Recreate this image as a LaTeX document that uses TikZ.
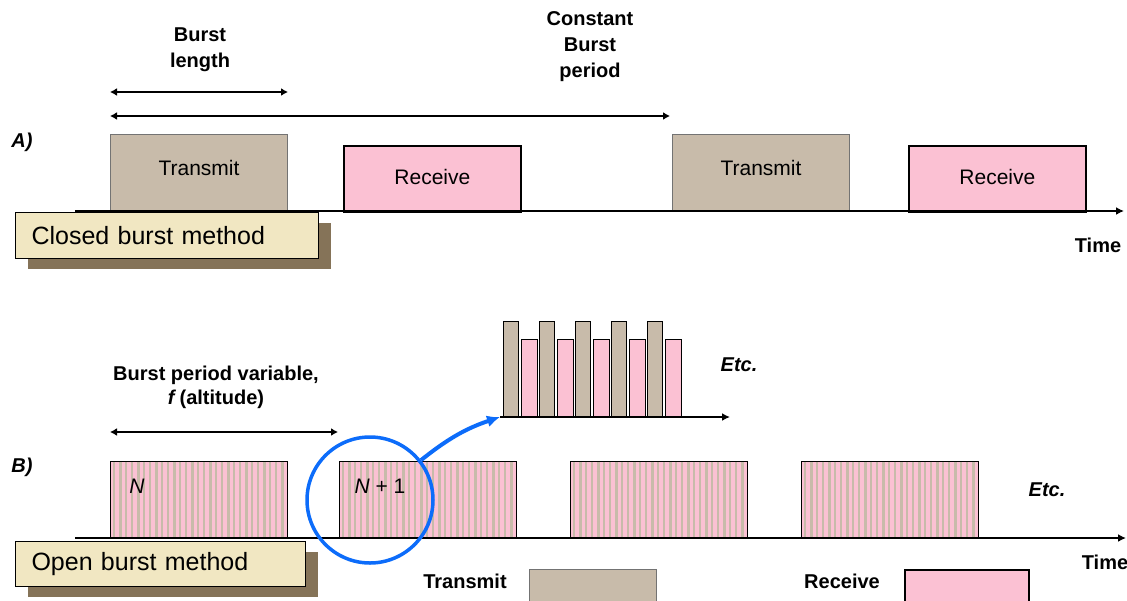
\documentclass[tikz,border=0pt]{standalone}
\usepackage{fontspec}
\setmainfont{Liberation Sans}
\usetikzlibrary{arrows.meta,shadows,positioning}

\definecolor{txtan}{RGB}{200,187,170}
\definecolor{rxpink}{RGB}{251,193,211}
\definecolor{notecream}{RGB}{241,231,194}
\definecolor{notebrown}{RGB}{133,115,88}
\definecolor{markblue}{RGB}{12,108,250}

\begin{document}
\begin{tikzpicture}[x=1pt,y=-1pt,>={Latex[length=8pt,width=8pt]},
                    inner sep=0pt,
  lbl/.style={font=\fontsize{20}{26}\selectfont\bfseries,align=center},
  tag/.style={font=\fontsize{20}{24}\selectfont\bfseries\itshape},
  tx/.style={draw=black!55,line width=1pt,fill=txtan,anchor=north west,
             minimum width=177pt,minimum height=77pt,text depth=10pt,
             font=\fontsize{21}{21}\selectfont},
  rx/.style={tx,draw=black,line width=1.8pt,fill=rxpink,minimum height=66pt,text depth=4pt},
  mixed/.style={draw=black,line width=1pt,fill=rxpink,anchor=north west,
             minimum width=177pt,minimum height=76pt,
             path picture={\foreach \s [count=\k] in {2,8,...,176}
               \fill[txtan] ([xshift=\s pt]path picture bounding box.south west)
                 rectangle ++({2+0.7*mod(\k,3)},90pt);}},
  note/.style={draw=black,line width=1pt,fill=notecream,anchor=north west,
             inner xsep=16pt,align=left,
             font=\fontsize{25}{25}\selectfont,
             drop shadow={fill=notebrown,opacity=1,shadow xshift=12pt,shadow yshift=-10pt}},
  axis/.style={->,line width=2.6pt},
  span/.style={<->,line width=2pt,>={Latex[length=7pt,width=8pt]}},
  bar/.style={draw=black,line width=0.8pt}]

  \path[use as bounding box,clip] (0,0) rectangle (1127,600);

  % A) closed burst
  \node[lbl]                   (BL) at (200,50)  {Burst\\length};
  \node[lbl]                   (CB) at (590,47)  {Constant\\Burst\\period};
  \node[tag]                   (A)  at (22,142)  {A)};

  \node[tx]                    (T1) at (110,134) {Transmit};
  \node[rx]                    (R1) at (343,145) {Receive};
  \node[tx]                    (T2) at (672,134) {Transmit};
  \node[rx]                    (R2) at (908,145) {Receive};

  \coordinate (a0) at (75,211);
  \coordinate (a1) at (1124,211);
  \coordinate (s0) at (110,92);
  \coordinate (s1) at (288,92);
  \coordinate (p0) at (110,116);
  \coordinate (p1) at (670,116);

  \path (s0) edge[span] (s1)
        (p0) edge[span] (p1);
  \draw[axis] (a0) -- (a1);

  \node[lbl]                   (TA) at (1098,245) {Time};
  \node[note,minimum height=46pt,text width=271pt] (CM) at (15,212) {Closed burst method};

  % B) open burst
  \node[lbl,font=\fontsize{20}{24}\selectfont\bfseries]
                               (BV) at (216,387) {Burst period variable,\\\textit{f}\,(altitude)};
  \node[tag]                   (B)  at (22,467)  {B)};

  \node[mixed]                 (M1) at (110,461) {};
  \node[mixed]                 (M2) at (339,461) {};
  \node[mixed]                 (M3) at (570,461) {};
  \node[mixed]                 (M4) at (801,461) {};
  \node[font=\fontsize{21}{21}\selectfont] (N1) at (137,486) {\textit{N}};
  \node[font=\fontsize{21}{21}\selectfont] (N2) at (380,486) {\textit{N} + 1};
  \node[tag]                   (E1) at (1047,490) {Etc.};

  \coordinate (b0) at (75,538);
  \coordinate (b1) at (1126,538);
  \coordinate (v0) at (110,432);
  \coordinate (v1) at (338,432);

  \path (v0) edge[span] (v1);
  \draw[axis] (b0) -- (b1);

  \node[lbl]                   (TB) at (1105,562) {Time};
  \node[note,minimum height=45pt,text width=258pt] (OM) at (15,541) {Open burst method};

  % legend
  \node[lbl]                   (LT) at (465,581) {Transmit};
  \node[tx,minimum width=127pt,minimum height=40pt] (KT) at (529,569) {};
  \node[lbl]                   (LR) at (842,581) {Receive};
  \node[rx,minimum width=124pt,minimum height=40pt] (KR) at (904,569) {};

  % close-up of one burst
  \foreach \k in {0,...,4} {
    \draw[bar,fill=txtan]  ({503+36.2*\k},321) rectangle ++(15,96);
    \draw[bar,fill=rxpink] ({521+36*\k},339)   rectangle ++(16,78);
  }
  \coordinate (c0) at (500,417);
  \coordinate (c1) at (730,417);
  \draw[axis,line width=2pt] (c0) -- (c1);
  \node[tag]                   (E2) at (739,365) {Etc.};

  \node[circle,draw=markblue,line width=3.5pt,minimum size=126pt] (Z) at (370,500) {};
  \path (Z.38) edge[markblue,line width=4pt,->,>={Latex[length=13pt,width=12pt]},bend left=10] (c0);
\end{tikzpicture}
\end{document}
